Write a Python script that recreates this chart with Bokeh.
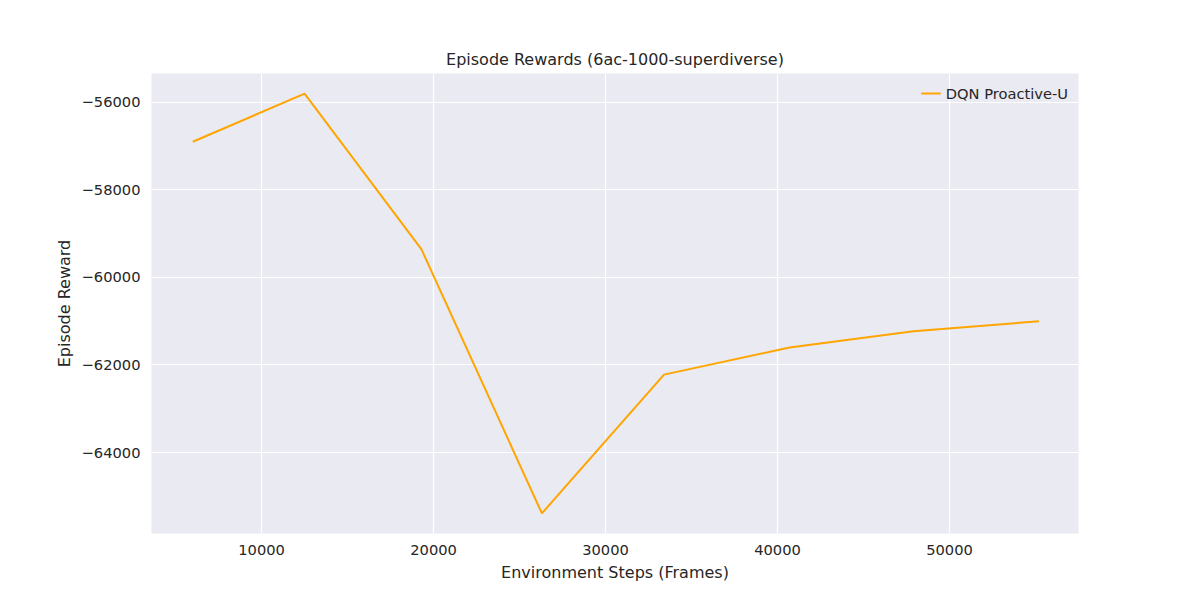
from bokeh.plotting import figure
from bokeh.models import Range1d, Legend
from bokeh.embed import file_html
from bokeh.resources import INLINE

steps = [6000, 12500, 19300, 26300, 33400, 40700, 47900, 55200]
rewards = [-56900, -55800, -59360, -65390, -62220, -61600, -61230, -61000]

p = figure(width=1184, height=584, output_backend="svg", toolbar_location=None,
           x_range=Range1d(3600, 57500), y_range=Range1d(-65850, -55340),
           min_border_left=151, min_border_right=106, min_border_top=73, min_border_bottom=51,
           title="Episode Rewards (6ac-1000-superdiverse)")
p.background_fill_color = "#EAEAF2"
p.border_fill_color = "white"
p.outline_line_color = None
p.title.align = "center"
p.title.text_font = "DejaVu Sans"
p.title.text_font_size = "12pt"
p.title.text_font_style = "normal"
p.title.text_color = "#262626"

r = p.line(steps, rewards, line_color="orange", line_width=2)

p.xaxis.ticker = [10000, 20000, 30000, 40000, 50000]
p.yaxis.ticker = [-64000, -62000, -60000, -58000, -56000]
p.xaxis.axis_label = "Environment Steps (Frames)"
p.yaxis.axis_label = "Episode Reward"
for ax in (p.xaxis, p.yaxis):
    ax.axis_line_color = None
    ax.major_tick_line_color = None
    ax.minor_tick_line_color = None
    ax.major_label_text_font = "DejaVu Sans"
    ax.major_label_text_font_size = "11pt"
    ax.major_label_text_color = "#262626"
    ax.axis_label_text_font = "DejaVu Sans"
    ax.axis_label_text_font_size = "12pt"
    ax.axis_label_text_font_style = "normal"
    ax.axis_label_text_color = "#262626"
p.yaxis.major_label_orientation = "horizontal"
p.grid.grid_line_color = "white"
p.grid.grid_line_width = 1.2

legend = Legend(items=[("DQN Proactive-U", [r])], location="top_right")
legend.background_fill_alpha = 0
legend.border_line_color = None
legend.label_text_font = "DejaVu Sans"
legend.label_text_font_size = "11pt"
legend.label_text_color = "#262626"
p.add_layout(legend)

open("out.html", "w").write(file_html(p, INLINE))
